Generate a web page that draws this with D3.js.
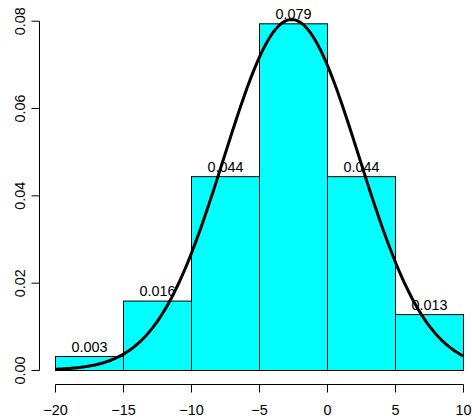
<!DOCTYPE html>
<html><head><meta charset="utf-8">
<script src="https://cdn.jsdelivr.net/npm/d3@7"></script>
<style>body{margin:0;background:#fff}svg{display:block}text{font-family:"Liberation Sans",Arial,sans-serif;font-size:14.4px;fill:#000}</style>
</head><body><svg width="472" height="416"></svg>
<script>
const binEdges = [-20,-15,-10,-5,0,5,10];
const densities = [0.0032,0.0159,0.0444,0.0794,0.0444,0.0128];
const labels = ["0.003","0.016","0.044","0.079","0.044","0.013"];
const xTicks = [-20,-15,-10,-5,0,5,10];
const yTicks = [0,0.02,0.04,0.06,0.08];
const yTickLabels = ["0.00","0.02","0.04","0.06","0.08"];
const curveMean = -2.6, curveSd = 4.97;

const svg = d3.select("svg");
const x = d3.scaleLinear().domain([-20,10]).range([55,463]);
const y = d3.scaleLinear().domain([0,0.08]).range([370,20.7]);

const bins = densities.map((d,i)=>({x0:binEdges[i],x1:binEdges[i+1],d,l:labels[i]}));
svg.selectAll("rect.bar").data(bins).enter().append("rect")
  .attr("x",b=>x(b.x0)+0.5).attr("y",b=>y(b.d)+0.5)
  .attr("width",b=>x(b.x1)-x(b.x0)).attr("height",b=>y(0)-y(b.d))
  .attr("fill","#00FFFF").attr("stroke","#000").attr("stroke-width",1);
svg.selectAll("text.lab").data(bins).enter().append("text")
  .attr("x",b=>(x(b.x0)+x(b.x1))/2+0.5).attr("y",b=>y(b.d)-4.3)
  .attr("text-anchor","middle").text(b=>b.l);

// normal curve
const pts = d3.range(0,201).map(i=>{const v=-20+30*i/200;return [v,Math.exp(-0.5*((v-curveMean)/curveSd)**2)/(curveSd*Math.sqrt(2*Math.PI))];});
svg.append("path").datum(pts).attr("fill","none").attr("stroke","#000").attr("stroke-width",3)
  .attr("d",d3.line().x(p=>x(p[0])).y(p=>y(p[1])).curve(d3.curveLinear));

// x axis
const xa = svg.append("g").attr("transform","translate(0.5,384.5)");
xa.append("line").attr("x1",x(-20)).attr("x2",x(10)).attr("stroke","#000");
xa.selectAll("line.t").data(xTicks).enter().append("line").attr("x1",d=>x(d)).attr("x2",d=>x(d)).attr("y1",0).attr("y2",8).attr("stroke","#000");
xa.selectAll("text").data(xTicks).enter().append("text").attr("x",d=>x(d)).attr("y",30)
  .attr("text-anchor","middle").text(d=>d<0?"\u2212"+Math.abs(d):String(d));

// y axis
const ya = svg.append("g").attr("transform","translate(39.5,0.5)");
ya.append("line").attr("y1",y(0)).attr("y2",y(0.08)).attr("stroke","#000");
ya.selectAll("line.t").data(yTicks).enter().append("line").attr("y1",d=>y(d)).attr("y2",d=>y(d)).attr("x1",0).attr("x2",-8).attr("stroke","#000");
ya.selectAll("text").data(yTicks).enter().append("text")
  .attr("transform",d=>`translate(-14.5,${y(d)}) rotate(-90)`)
  .attr("text-anchor","middle").text((d,i)=>yTickLabels[i]);
</script></body></html>
